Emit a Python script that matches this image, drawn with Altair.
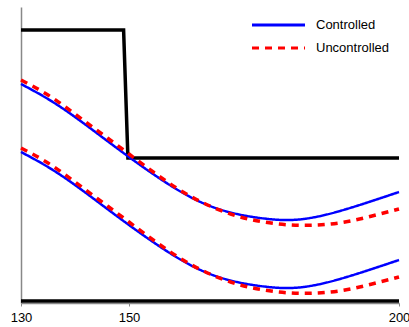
import altair as alt
import pandas as pd

# ---- data ----
x_vals = [130, 135, 140, 145, 150, 155, 160, 165, 170, 175, 180, 185, 190, 195, 200]
ctrl_upper = [219, 204, 186, 166, 146, 127, 110, 97, 89, 84.5, 83, 86.5, 93.5, 102, 111]
unctrl_upper = [223, 208, 189, 169, 149, 129, 111, 97, 87, 81, 78, 78, 81, 87, 94]
ctrl_lower = [151, 136, 118, 98, 78, 59, 42, 29, 21, 16.5, 15, 18.5, 25.5, 34, 43]
unctrl_lower = [155, 140, 121, 101, 81, 61, 43, 29, 19, 13, 10, 10, 13, 19, 26]

step_x = [130, 149.0, 149.8, 200]
step_y = [273, 273, 145, 145]
base_x = [130, 200]
base_y = [2, 2]

x_ticks = [130, 150, 200]
series_names = ["Controlled", "Uncontrolled"]
series_colors = ["#0000ff", "#ff0000"]

# ---- tables ----
rows = []
for series, curve, ys in [
    ("Controlled", "c_up", ctrl_upper),
    ("Controlled", "c_lo", ctrl_lower),
    ("Uncontrolled", "u_up", unctrl_upper),
    ("Uncontrolled", "u_lo", unctrl_lower),
]:
    for xv, yv in zip(x_vals, ys):
        rows.append({"x": xv, "y": yv, "series": series, "curve": curve})
curves = pd.DataFrame(rows)

brows = []
for g, xs, ys in [("step", step_x, step_y), ("base", base_x, base_y)]:
    for xv, yv in zip(xs, ys):
        brows.append({"x": xv, "y": yv, "group": g})
blacks = pd.DataFrame(brows)

FONT = "Liberation Sans"
x_scale = alt.Scale(domain=[130, 200], nice=False, zero=False)
y_scale = alt.Scale(domain=[0, 296], nice=False, zero=False)

x_enc = alt.X("x:Q", scale=x_scale, axis=alt.Axis(
    values=x_ticks, format="d", title=None, grid=False,
    labelFont=FONT, labelFontSize=13, labelColor="black",
    labelFlush=False, labelOverlap=False, labelPadding=5,
    domainColor="#888888", domainWidth=1.5,
    tickColor="#888888", tickSize=3, tickWidth=1))
y_enc = alt.Y("y:Q", scale=y_scale, axis=alt.Axis(
    title=None, grid=False, labels=False, ticks=False,
    domainColor="#888888", domainWidth=1.5))

legend = alt.Legend(
    orient="none", legendX=229.5, legendY=9, title=None,
    symbolType="stroke", symbolSize=2809, symbolStrokeWidth=3,
    clipHeight=18, rowPadding=5, labelOffset=9.5, symbolOffset=0,
    labelFont=FONT, labelFontSize=13, labelColor="black", padding=0)

color_enc = alt.Color("series:N", scale=alt.Scale(domain=series_names, range=series_colors), legend=legend)
dash_enc = alt.StrokeDash("series:N", scale=alt.Scale(domain=series_names, range=[[1, 0], [7, 6]]), legend=legend)

black_layer = alt.Chart(blacks).mark_line(color="black", strokeWidth=3.5).encode(
    x=x_enc, y=y_enc, detail="group:N")

blue_layer = alt.Chart(curves).transform_filter(
    alt.datum.series == "Controlled").mark_line(strokeWidth=2.5, interpolate="natural").encode(
    x=x_enc, y=y_enc, color=color_enc, strokeDash=dash_enc, detail="curve:N")

red_layer = alt.Chart(curves).transform_filter(
    alt.datum.series == "Uncontrolled").mark_line(strokeWidth=3.5, interpolate="natural").encode(
    x=x_enc, y=y_enc, color=color_enc, strokeDash=dash_enc, detail="curve:N")

chart = alt.layer(black_layer, blue_layer, red_layer).properties(
    width=378, height=296,
    autosize=alt.AutoSizeParams(type="none"),
    padding={"left": 21, "top": 7, "right": 10, "bottom": 24},
).configure_view(stroke=None)

chart.save("out.html", embed_options={"renderer": "svg", "actions": False})
